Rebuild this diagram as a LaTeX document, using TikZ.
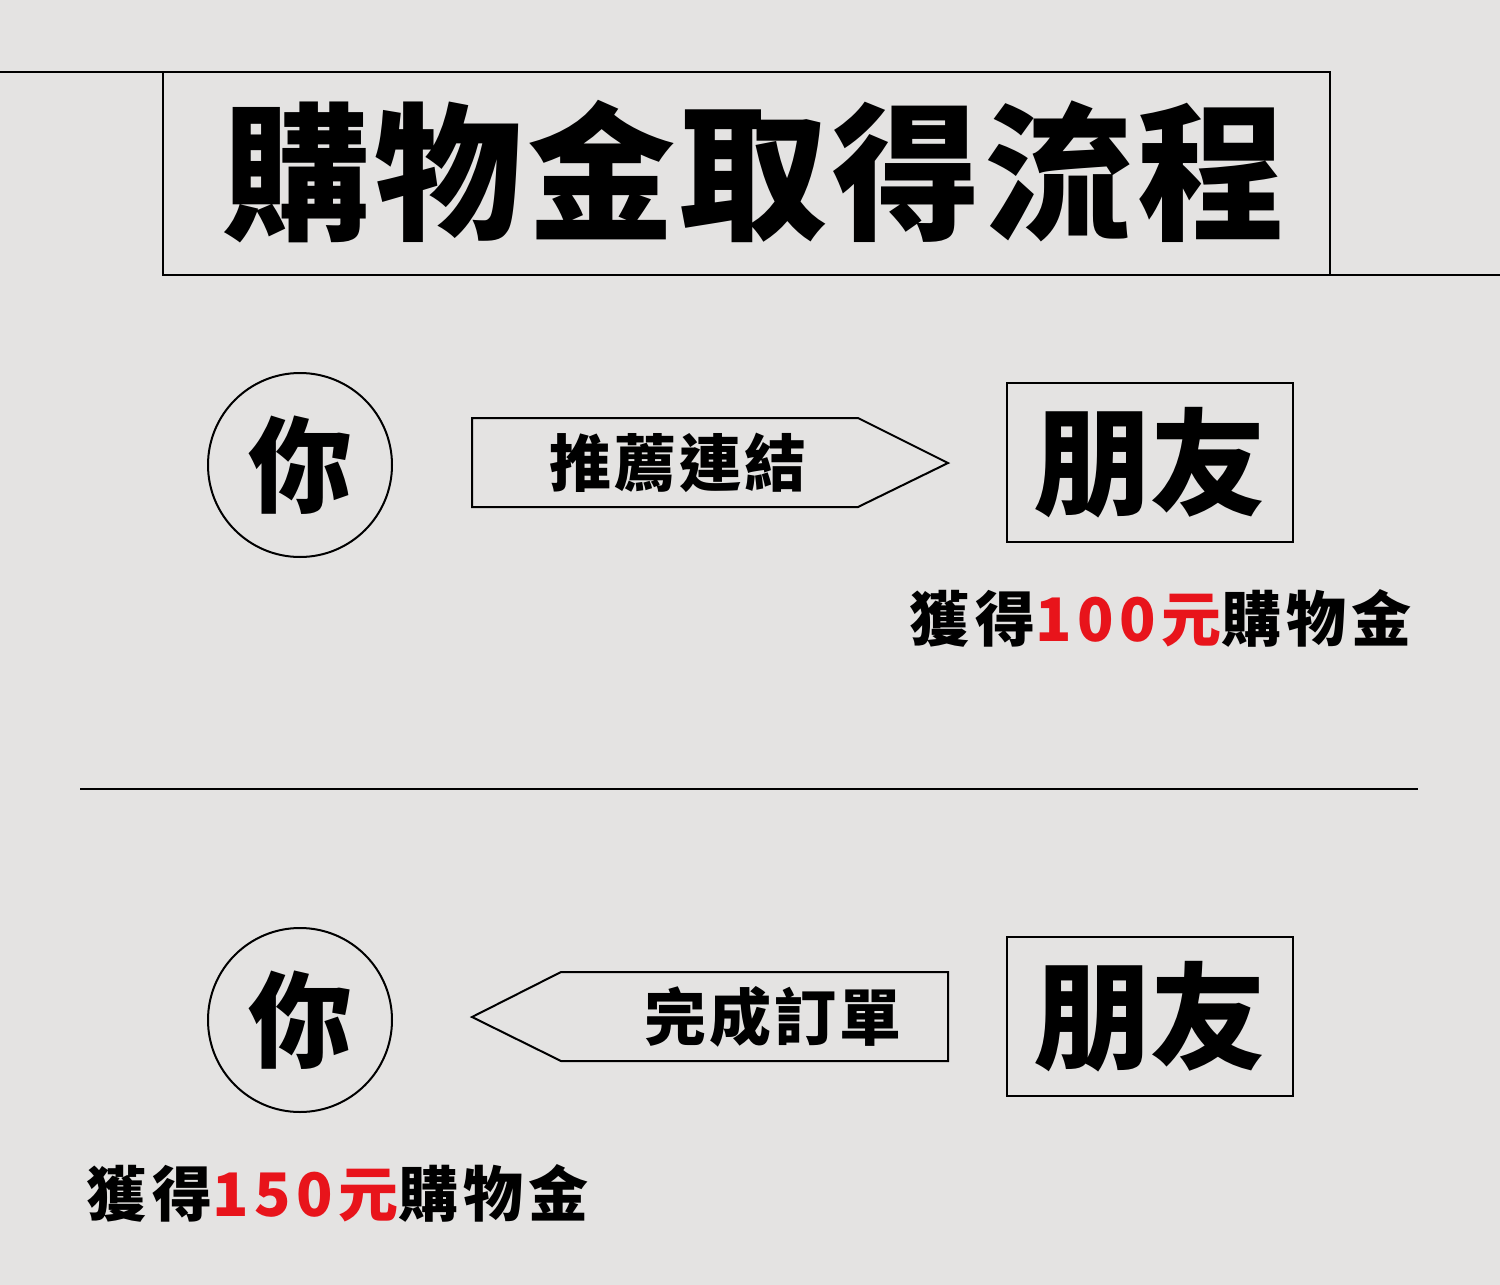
\documentclass[tikz,border=0pt]{standalone}
\usepackage{fontspec}
\newfontfamily\cjk{Noto Sans CJK TC}
\definecolor{paper}{HTML}{E4E3E2}
\definecolor{redtxt}{HTML}{E8141B}
\tikzset{
  ln/.style={line width=1pt, black},
  txt/.style={inner sep=0pt, font=\cjk\bfseries},
  frame/.style={ln, draw, inner sep=0pt, outer sep=0pt},
}
\begin{document}
\begin{tikzpicture}[x=0.5pt,y=-0.5pt]
\fill[paper] (0,0) rectangle (1500,1285);
\useasboundingbox (0,0) rectangle (1500,1285);
% title frame and lines
\node[frame, minimum width=583.5pt, minimum height=101.5pt] (tbox) at (746.5,173.5) {};
\coordinate (tl) at (0,72);
\coordinate (tr) at (1500,275);
\draw[ln] (tl) -- (tbox.north west);
\draw[ln] (tbox.south east) -- (tr);
\node[txt, font=\cjk\bfseries\fontsize{74}{74}\selectfont\addfontfeature{LetterSpace=3}] (title) at (754,172) {購物金取得流程};
% row 1
\node[frame, circle, minimum size=92pt] (you1) at (300,465) {};
\node[txt, font=\cjk\bfseries\fontsize{52}{52}\selectfont] (you1t) at (300,465) {你};
\draw[ln] (472,418) coordinate (a1) -- (858,418) -- (948,463) coordinate (a1tip) -- (858,507) -- (472,507) -- cycle;
\node[txt, font=\cjk\bfseries\fontsize{31}{31}\selectfont\addfontfeature{LetterSpace=5}] (a1t) at (678,463) {推薦連結};
\node[frame, minimum width=143pt, minimum height=79.5pt] (fr1) at (1150,462.5) {};
\node[txt, font=\cjk\bfseries\fontsize{58}{58}\selectfont] (fr1t) at (1150,463) {朋友};
\node[txt, font=\cjk\bfseries\fontsize{30}{30}\selectfont\addfontfeature{LetterSpace=9}] (g1) at (1161,618) {獲得\textcolor{redtxt}{100元}購物金};
% divider
\coordinate (d1) at (80,789);
\coordinate (d2) at (1418,789);
\draw[ln] (d1) -- (d2);
% row 2
\node[frame, circle, minimum size=92pt] (you2) at (300,1020) {};
\node[txt, font=\cjk\bfseries\fontsize{52}{52}\selectfont] (you2t) at (300,1020) {你};
\draw[ln] (472,1017) coordinate (a2tip) -- (561,972) -- (948,972) -- (948,1061) -- (561,1061) -- cycle;
\node[txt, font=\cjk\bfseries\fontsize{31}{31}\selectfont\addfontfeature{LetterSpace=5}] (a2t) at (773,1017) {完成訂單};
\node[frame, minimum width=143pt, minimum height=79.5pt] (fr2) at (1150,1016.5) {};
\node[txt, font=\cjk\bfseries\fontsize{58}{58}\selectfont] (fr2t) at (1150,1017) {朋友};
\node[txt, font=\cjk\bfseries\fontsize{30}{30}\selectfont\addfontfeature{LetterSpace=9}] (g2) at (338,1193) {獲得\textcolor{redtxt}{150元}購物金};
\end{tikzpicture}
\end{document}
